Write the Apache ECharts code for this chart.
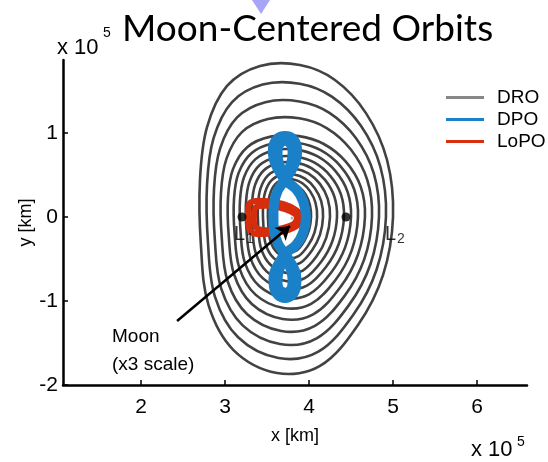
<!DOCTYPE html>
<html>
<head>
<meta charset="utf-8">
<script src="https://cdn.jsdelivr.net/npm/echarts@6/dist/echarts.min.js"></script>
<style>
  html, body { margin: 0; padding: 0; background: #fff; }
  #chart { width: 548px; height: 462px; }
</style>
</head>
<body>
<div id="chart"></div>
<script>
// All positions are in units of 1e5 km (the axes carry the "x 10^5" exponent).
const xTicks = [2, 3, 4, 5, 6];
const yTicks = [-2, -1, 0, 1];
const seriesNames = ['DRO', 'DPO', 'LoPO'];

// Distant retrograde orbits, outermost first: 16 outline points each, [x, y]
const droOrbits = [
  [[5.000,0],[4.929,0.678],[4.678,1.237],[4.309,1.631],[3.892,1.809],[3.417,1.798],[3.024,1.560],[2.786,1.070],[2.702,0.440],[2.713,-0.332],[2.803,-1.047],[3.101,-1.584],[3.619,-1.857],[4.131,-1.773],[4.583,-1.285],[4.881,-0.691]],
  [[4.916,0],[4.850,0.595],[4.618,1.085],[4.276,1.430],[3.889,1.586],[3.448,1.576],[3.084,1.368],[2.864,0.938],[2.786,0.386],[2.797,-0.301],[2.880,-0.947],[3.156,-1.432],[3.636,-1.679],[4.111,-1.603],[4.529,-1.162],[4.805,-0.625]],
  [[4.833,0],[4.772,0.515],[4.558,0.940],[4.243,1.240],[3.886,1.375],[3.480,1.367],[3.144,1.185],[2.941,0.814],[2.869,0.334],[2.879,-0.271],[2.955,-0.853],[3.210,-1.290],[3.653,-1.512],[4.091,-1.444],[4.477,-1.046],[4.731,-0.562]],
  [[4.750,0],[4.694,0.440],[4.498,0.803],[4.210,1.059],[3.883,1.175],[3.511,1.167],[3.204,1.013],[3.018,0.695],[2.952,0.286],[2.961,-0.243],[3.031,-0.765],[3.264,-1.158],[3.669,-1.357],[4.070,-1.296],[4.424,-0.939],[4.657,-0.505]],
  [[4.666,0],[4.615,0.361],[4.438,0.659],[4.176,0.869],[3.880,0.963],[3.543,0.957],[3.264,0.831],[3.095,0.570],[3.036,0.234],[3.044,-0.217],[3.108,-0.685],[3.319,-1.036],[3.686,-1.214],[4.050,-1.159],[4.370,-0.840],[4.581,-0.452]],
  [[4.583,0],[4.537,0.330],[4.376,0.603],[4.139,0.795],[3.872,0.881],[3.566,0.876],[3.314,0.760],[3.161,0.522],[3.107,0.214],[3.114,-0.194],[3.172,-0.611],[3.363,-0.924],[3.696,-1.083],[4.025,-1.034],[4.315,-0.749],[4.506,-0.403]],
  [[4.500,0],[4.459,0.300],[4.315,0.547],[4.103,0.721],[3.863,0.799],[3.589,0.795],[3.363,0.689],[3.226,0.473],[3.178,0.194],[3.185,-0.173],[3.236,-0.544],[3.407,-0.822],[3.705,-0.964],[4.000,-0.921],[4.260,-0.667],[4.431,-0.359]],
  [[4.416,0],[4.380,0.269],[4.253,0.490],[4.066,0.646],[3.854,0.717],[3.613,0.712],[3.413,0.618],[3.293,0.424],[3.250,0.174],[3.256,-0.153],[3.301,-0.483],[3.452,-0.731],[3.715,-0.857],[3.975,-0.818],[4.204,-0.593],[4.355,-0.319]],
  [[4.333,0],[4.302,0.242],[4.191,0.442],[4.029,0.583],[3.845,0.646],[3.636,0.643],[3.463,0.557],[3.358,0.383],[3.321,0.157],[3.326,-0.136],[3.366,-0.430],[3.497,-0.650],[3.725,-0.762],[3.950,-0.728],[4.149,-0.527],[4.280,-0.283]],
  [[4.250,0],[4.223,0.216],[4.130,0.394],[3.992,0.519],[3.836,0.575],[3.659,0.572],[3.512,0.496],[3.423,0.340],[3.392,0.140],[3.396,-0.119],[3.430,-0.376],[3.541,-0.569],[3.734,-0.667],[3.926,-0.637],[4.094,-0.462],[4.205,-0.248]],
  [[4.167,0],[4.145,0.189],[4.067,0.346],[3.952,0.456],[3.823,0.505],[3.675,0.502],[3.553,0.436],[3.479,0.299],[3.453,0.123],[3.457,-0.102],[3.484,-0.322],[3.577,-0.487],[3.738,-0.571],[3.897,-0.545],[4.037,-0.395],[4.130,-0.212]],
  [[4.096,0],[4.078,0.167],[4.014,0.305],[3.921,0.402],[3.815,0.446],[3.694,0.443],[3.594,0.385],[3.533,0.264],[3.512,0.108],[3.515,-0.087],[3.538,-0.275],[3.613,-0.416],[3.745,-0.488],[3.875,-0.466],[3.990,-0.338],[4.066,-0.182]],
  [[4.024,0],[4.010,0.145],[3.961,0.265],[3.888,0.350],[3.806,0.388],[3.713,0.386],[3.635,0.334],[3.588,0.230],[3.572,0.094],[3.574,-0.075],[3.592,-0.235],[3.650,-0.356],[3.752,-0.417],[3.853,-0.398],[3.942,-0.289],[4.000,-0.155]]
];

// Distant prograde orbit: figure-eight chain traced once around, then the tighter lobe passes
const dpoPath = [
  [3.714,0.964],[3.810,0.929],[3.857,0.821],[3.845,0.679],[3.786,0.548],[3.714,0.440],
  [3.631,0.321],[3.583,0.155],[3.577,0],[3.583,-0.155],[3.631,-0.321],[3.714,-0.440],
  [3.786,-0.548],[3.845,-0.679],[3.845,-0.833],[3.798,-0.929],[3.714,-0.964],[3.631,-0.929],
  [3.583,-0.833],[3.583,-0.679],[3.643,-0.548],[3.714,-0.440],[3.845,-0.333],[3.929,-0.190],
  [3.964,0],[3.929,0.190],[3.845,0.333],[3.714,0.440],[3.643,0.548],[3.583,0.679],
  [3.571,0.821],[3.619,0.929]
];
const dpoUpperLobe = [[3.714,0.893],[3.774,0.845],[3.786,0.738],[3.762,0.619],[3.714,0.536],[3.667,0.619],[3.643,0.738],[3.655,0.845]];
const dpoLowerLobe = [[3.714,-0.893],[3.774,-0.845],[3.786,-0.738],[3.762,-0.619],[3.714,-0.536],[3.667,-0.619],[3.643,-0.738],[3.655,-0.845]];

// Low prograde orbit loops around the Moon
const lopoLoops = [
  [[3.298,0.167],[3.476,0.190],[3.690,0.155],[3.845,0.083],[3.917,0],[3.869,-0.095],[3.714,-0.167],[3.476,-0.202],[3.310,-0.179],[3.274,-0.012]],
  [[3.369,0.119],[3.536,0.131],[3.714,0.095],[3.833,0.036],[3.857,-0.024],[3.798,-0.095],[3.631,-0.143],[3.440,-0.155],[3.357,-0.107],[3.345,0.012]]
];

const librationPoints = [
  { name: 'L1', sub: '1', value: [3.202, 0] },
  { name: 'L2', sub: '2', value: [4.440, 0] }
];
const moonPos = [3.798, -0.012];
const moonArrow = [[2.429, -1.238], [3.774, -0.107]];

const FONT = '"Liberation Sans", Arial, Helvetica, sans-serif';

// One custom series per family; every closed trajectory is a smoothed polygon outline
function loopSeries(name, loops, legendColor, stroke, widths, smooth) {
  return {
    type: 'custom',
    name: name,
    coordinateSystem: 'cartesian2d',
    itemStyle: { color: legendColor },
    silent: true,
    data: loops.map((l, i) => [l[0][0], l[0][1], i]),
    encode: { x: 0, y: 1 },
    renderItem: function (params, api) {
      const i = params.dataIndex;
      const pts = loops[i].map(p => api.coord(p));
      return {
        type: 'polygon',
        shape: { points: pts, smooth: smooth },
        style: { fill: 'none', stroke: stroke, lineWidth: Array.isArray(widths) ? widths[i] : widths, lineJoin: 'round' }
      };
    }
  };
}

const chart = echarts.init(document.getElementById('chart'), null, { renderer: 'canvas' });

chart.setOption({
  animation: false,
  backgroundColor: '#fff',
  title: {
    text: 'Moon-Centered Orbits',
    left: 122,
    top: 11,
    padding: 0,
    textStyle: { fontFamily: 'Lato, "Open Sans", sans-serif', fontSize: 37, fontWeight: 'normal', color: '#000' }
  },
  legend: {
    orient: 'vertical',
    left: 446,
    top: 88,
    padding: 0,
    icon: 'rect',
    itemWidth: 38,
    itemHeight: 3,
    itemGap: 3,
    selectedMode: false,
    textStyle: { fontFamily: FONT, fontSize: 19, color: '#000', lineHeight: 19, padding: [0, 0, 0, 8] },
    data: seriesNames
  },
  grid: { left: 63, right: 21, top: 60, bottom: 77, containLabel: false },
  xAxis: {
    type: 'value',
    min: 1.0714,
    max: 6.595,
    name: 'x [km]',
    nameLocation: 'middle',
    nameGap: 42,
    nameMoveOverlap: false,
    nameTextStyle: { fontFamily: FONT, fontSize: 18, color: '#000' },
    axisLine: { show: true, onZero: false, lineStyle: { color: '#000', width: 2.5 } },
    axisTick: { show: true, inside: true, length: 5, customValues: xTicks, lineStyle: { color: '#000', width: 1.5 } },
    axisLabel: { show: true, margin: 12, customValues: xTicks, fontFamily: FONT, fontSize: 21, color: '#000' },
    splitLine: { show: false }
  },
  yAxis: {
    type: 'value',
    min: -2,
    max: 1.869,
    name: 'y [km]',
    nameLocation: 'middle',
    nameGap: 28,
    nameRotate: 90,
    nameMoveOverlap: false,
    nameTextStyle: { fontFamily: FONT, fontSize: 18, color: '#000' },
    axisLine: { show: true, onZero: false, lineStyle: { color: '#000', width: 2.5 } },
    axisTick: { show: true, inside: true, length: 5, customValues: yTicks, lineStyle: { color: '#000', width: 1.5 } },
    axisLabel: { show: true, margin: 5, customValues: yTicks, fontFamily: FONT, fontSize: 21, color: '#000' },
    splitLine: { show: false }
  },
  graphic: [
    { type: 'polygon', shape: { points: [[252, 0], [270, 0], [261, 14]] }, style: { fill: '#a6a6f5' }, silent: true },
    { type: 'text', x: 57, y: 37, style: { text: 'x 10', font: '22px ' + FONT, fill: '#000', verticalAlign: 'top' }, silent: true },
    { type: 'text', x: 103, y: 26, style: { text: '5', font: '14px ' + FONT, fill: '#000', verticalAlign: 'top' }, silent: true },
    { type: 'text', x: 471, y: 439, style: { text: 'x 10', font: '22px ' + FONT, fill: '#000', verticalAlign: 'top' }, silent: true },
    { type: 'text', x: 517, y: 435, style: { text: '5', font: '14px ' + FONT, fill: '#000', verticalAlign: 'top' }, silent: true },
    { type: 'text', x: 112, y: 323, style: { text: 'Moon\n(x3 scale)', font: '19px ' + FONT, lineHeight: 28, fill: '#000', verticalAlign: 'top' }, silent: true }
  ],
  series: [
    loopSeries('DRO', droOrbits, '#878787', '#424242', 2.6, 0.35),
    loopSeries('LoPO', lopoLoops, '#d6300f', '#d62d0c', 6, 0.35),
    loopSeries('DPO', [dpoPath, dpoUpperLobe, dpoLowerLobe], '#1a80c8', '#1a80c8', [10, 7, 7], 0.35),
    {
      type: 'scatter',
      name: 'libration',
      silent: true,
      symbol: 'circle',
      symbolSize: 9,
      itemStyle: { color: '#000' },
      data: librationPoints.map((p, i) => ({
        value: p.value,
        label: {
          show: true,
          position: 'inside',
          align: 'left',
          verticalAlign: 'top',
          offset: i === 0 ? [-8, 7] : [39, 7],
          formatter: '{l|L}{s|' + p.sub + '}',
          rich: {
            l: { fontFamily: FONT, fontSize: 20, lineHeight: 22, color: '#000', verticalAlign: 'top' },
            s: { fontFamily: FONT, fontSize: 14, lineHeight: 14, color: '#000', verticalAlign: 'bottom', padding: [0, 0, 0, 1] }
          }
        }
      })),
      markLine: {
        silent: true,
        symbol: ['none', 'arrow'],
        symbolSize: 13,
        label: { show: false },
        lineStyle: { color: '#000', width: 2.5, type: 'solid' },
        data: [[{ coord: moonArrow[0] }, { coord: moonArrow[1] }]]
      }
    },
    {
      type: 'scatter',
      name: 'Moon',
      silent: true,
      symbolSize: 3,
      itemStyle: { color: '#9a9a9a' },
      data: [moonPos]
    }
  ]
});
</script>
</body>
</html>
